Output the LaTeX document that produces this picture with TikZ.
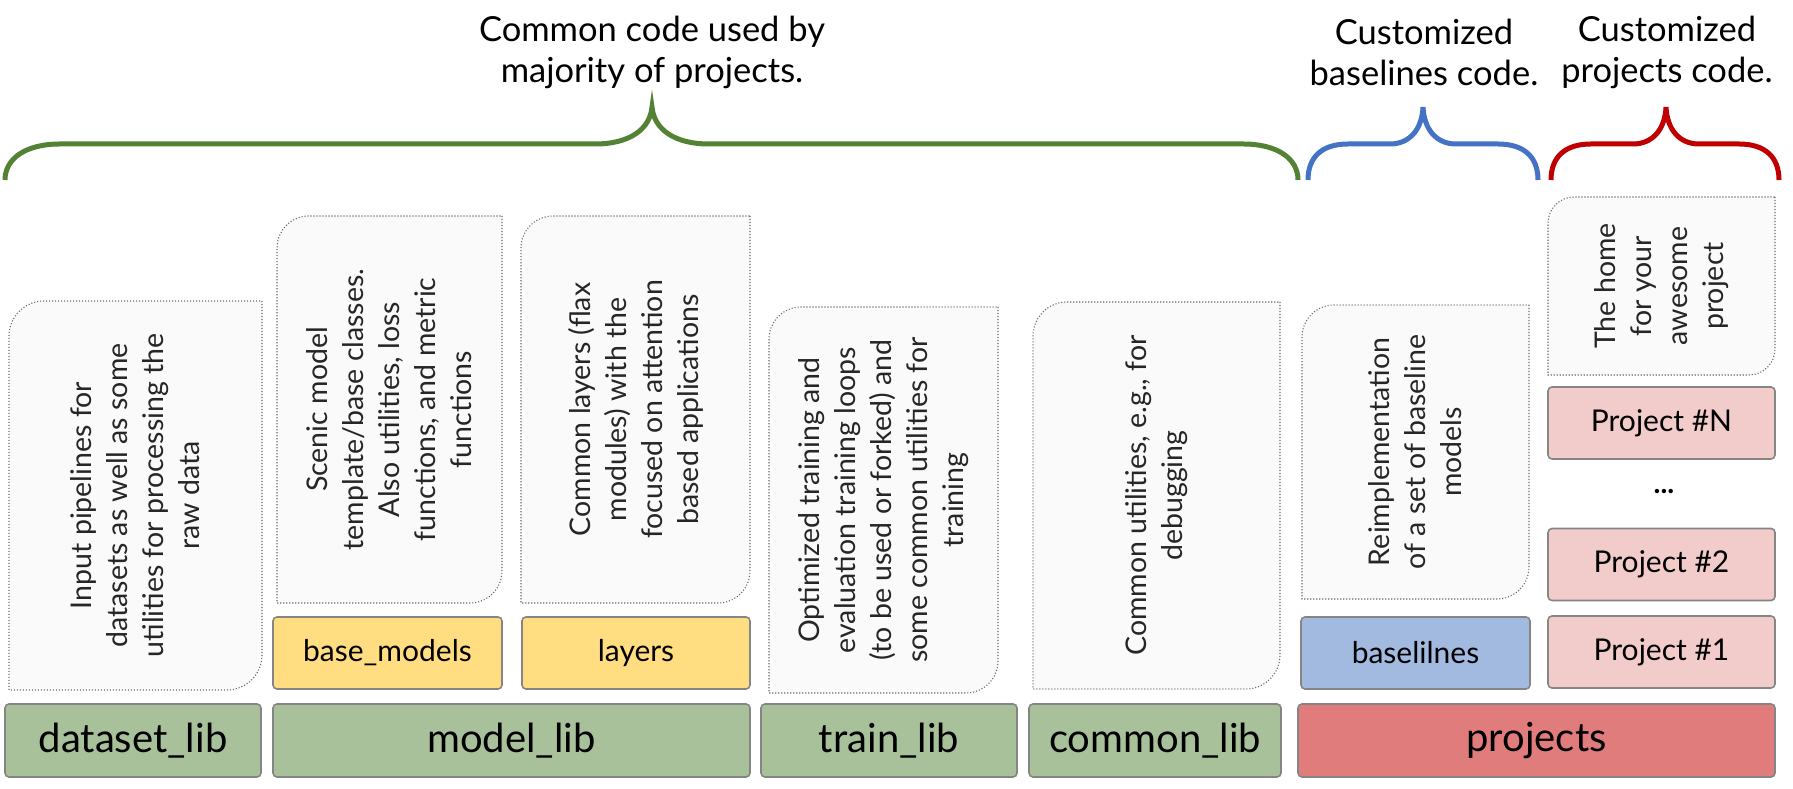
\documentclass[tikz,border=0pt]{standalone}
\usepackage{fontspec}
\setmainfont{Lato}
\usetikzlibrary{positioning}

\definecolor{libgreen}{HTML}{A9C19B}
\definecolor{subyellow}{HTML}{FFDD80}
\definecolor{subblue}{HTML}{A2B9E0}
\definecolor{projred}{HTML}{E07C7C}
\definecolor{projpink}{HTML}{F2CBCB}
\definecolor{boxline}{HTML}{858585}
\definecolor{dotgray}{HTML}{6A6A6A}
\definecolor{descfill}{HTML}{FAFAFA}
\definecolor{bracegreen}{HTML}{548235}
\definecolor{braceblue}{HTML}{4472C4}
\definecolor{bracered}{HTML}{C00000}

\begin{document}
\begin{tikzpicture}[x=1pt,y=1pt]
\tikzstyle{every node}=[inner sep=0pt, outer sep=0pt]
\tikzstyle{lib}=[draw=boxline, line width=1.6pt, rounded corners=4pt, minimum height=73pt, font=\fontsize{40}{46}\selectfont]
\tikzstyle{sub}=[draw=boxline, line width=1.6pt, rounded corners=4pt, minimum height=72pt, font=\fontsize{30}{35}\selectfont]
\tikzstyle{desc}=[minimum width=229pt, minimum height=387pt]
\tikzstyle{desctext}=[rotate=90, align=center, text=black!85, font=\fontsize{28.5}{36}\selectfont]
\tikzstyle{dotline}=[draw=dotgray, fill=descfill, line width=1.1pt, dash pattern=on 1.1pt off 1.9pt]
\tikzstyle{title}=[align=center, font=\fontsize{34.5}{41}\selectfont]
\tikzstyle{brace}=[line width=5pt]

\useasboundingbox (0,0) rectangle (1793,789);

% bottom row
\node[lib, fill=libgreen, minimum width=256pt] (datasetlib) at (133,48.5) {dataset\_lib};
\node[lib, fill=libgreen, minimum width=477pt] (modellib) at (511.5,48.5) {model\_lib};
\node[lib, fill=libgreen, minimum width=256pt] (trainlib) at (889,48.5) {train\_lib};
\node[lib, fill=libgreen, minimum width=252pt] (commonlib) at (1155,48.5) {common\_lib};
\node[lib, fill=projred, minimum width=477pt] (projects) at (1536.5,48.5) {projects};

% sub folders
\node[sub, fill=subyellow, minimum width=229pt] (basemodels) at (387.5,136) {base\_models};
\node[sub, fill=subyellow, minimum width=228pt] (layers) at (636,136) {layers};
\node[sub, fill=subblue, minimum width=229pt] (baselines) at (1415.5,136) {baselilnes};
\node[sub, fill=projpink, minimum width=227pt] (projectone) at (1661.5,137) {Project \#1};
\node[sub, fill=projpink, minimum width=227pt] (projecttwo) at (1661.5,224.5) {Project \#2};
\node[font=\fontsize{29}{34}\selectfont] (dots) at (1664,297) {\textbf{...}};
\node[sub, fill=projpink, minimum width=227pt] (projectn) at (1661.5,366) {Project \#N};

% description boxes
\node[desc, minimum width=253pt, minimum height=389pt] (datasetdesc) at (135.5,293.5) {};
\node[desc, minimum width=225pt] (basedesc) at (389.5,379.5) {};
\node[desc] (layersdesc) at (635.5,379.5) {};
\node[desc, minimum height=386pt] (traindesc) at (883.5,289) {};
\node[desc, minimum width=247pt] (commondesc) at (1156.5,293.5) {};
\node[desc, minimum width=227pt, minimum height=294pt] (baselinesdesc) at (1415.5,337) {};
\node[desc, minimum width=227pt, minimum height=178pt] (projectdesc) at (1661.5,503) {};

\foreach \n/\r in {datasetdesc/35, basedesc/32, layersdesc/32, traindesc/32, commondesc/34, baselinesdesc/32, projectdesc/26}
  \draw[dotline] (\n.north east) -- ([yshift=\r pt]\n.south east) arc[start angle=0, end angle=-90, radius=\r pt]
    -- (\n.south west) -- ([yshift=-\r pt]\n.north west) arc[start angle=180, end angle=90, radius=\r pt] -- cycle;

\node[desctext] (datasettxt) at (datasetdesc) {Input pipelines for\\datasets as well as some\\utilities for processing the\\raw data};
\node[desctext] (basetxt) at (basedesc) {Scenic model\\template/base classes.\\Also utilities, loss\\functions, and metric\\functions};
\node[desctext] (layerstxt) at (layersdesc) {Common layers (flax\\modules) with the\\focused on attention\\based applications};
\node[desctext] (traintxt) at (traindesc) {Optimized training and\\evaluation training loops\\(to be used or forked) and\\some common utilities for\\training};
\node[desctext] (commontxt) at (commondesc) {Common utilities, e.g., for\\debugging};
\node[desctext] (baselinestxt) at (baselinesdesc) {Reimplementation\\of a set of baseline\\models};
\node[desctext] (projecttxt) at (projectdesc) {The home\\for your\\awesome\\project};

% braces and titles
\draw[brace, bracegreen] (5,609) .. controls (5,630) and (25,645) .. (60,645) -- (595,645)
  .. controls (630,645) and (650,660) .. (652,682) .. controls (654,660) and (674,645) .. (709,645)
  -- (1243,645) .. controls (1278,645) and (1298,630) .. (1298,609);
\draw[brace, braceblue] (1308,609) .. controls (1308,632) and (1322,645) .. (1348,645) -- (1390,645)
  .. controls (1410,645) and (1422,660) .. (1423,682) .. controls (1424,660) and (1436,645) .. (1456,645)
  -- (1498,645) .. controls (1524,645) and (1538,632) .. (1538,609);
\draw[brace, bracered] (1551,609) .. controls (1551,632) and (1565,645) .. (1591,645) -- (1633,645)
  .. controls (1653,645) and (1665,660) .. (1666,682) .. controls (1667,660) and (1679,645) .. (1699,645)
  -- (1739,645) .. controls (1765,645) and (1779,632) .. (1779,609);

\node[title] (commontitle) at (652,737) {Common code used by\\majority of projects.};
\node[title] (baselinestitle) at (1424,737) {Customized\\baselines code.};
\node[title] (projectstitle) at (1667,737) {Customized\\projects code.};
\end{tikzpicture}
\end{document}
